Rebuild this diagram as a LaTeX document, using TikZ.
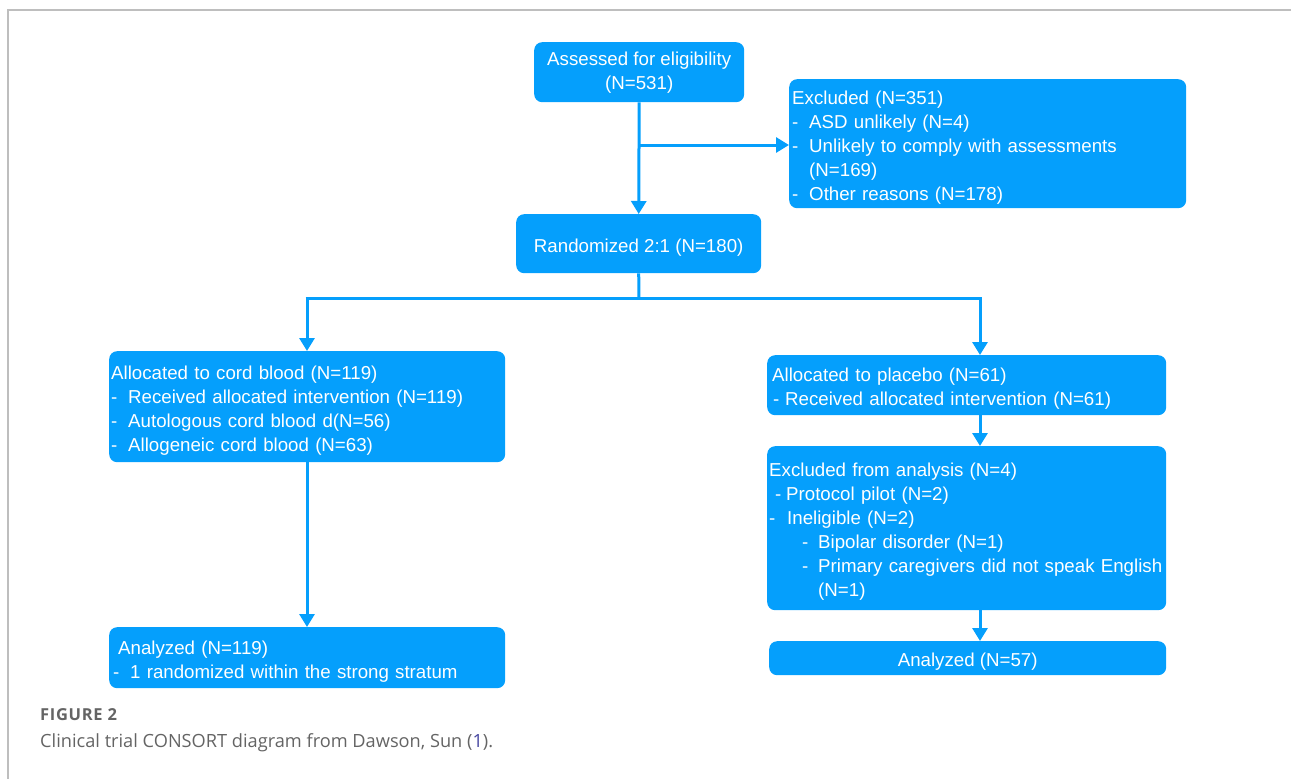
\documentclass[tikz,border=0pt]{standalone}
\usepackage{fontspec}
\setmainfont{Liberation Sans}
\newfontfamily\capfont{Open Sans}
\newfontfamily\figfont[LetterSpace=4]{Open Sans}
\usetikzlibrary{arrows.meta}
\definecolor{cblue}{RGB}{5,159,252}
\definecolor{framegray}{RGB}{190,190,190}
\definecolor{capgray}{RGB}{100,100,100}
\definecolor{refcol}{RGB}{70,70,160}
\newcommand{\dsh}[1]{\makebox[#1pt][l]{-}}
\newcommand{\tstrut}{\rule{0pt}{20.5pt}}
\tikzset{
  box/.style={fill=cblue, draw=none, rounded corners=8pt, text=white, anchor=north west,
    font=\fontsize{18.7}{24}\selectfont, inner ysep=2pt, execute at begin node=\tstrut},
  conn/.style={draw=cblue, line width=3pt},
  arr/.style={conn, -{Triangle[width=15pt,length=13pt]}},
}
\begin{document}
\begin{tikzpicture}[x=1pt,y=-1pt]
\useasboundingbox (0,0) rectangle (1291,779);
% frame
\draw[framegray, line width=2pt] (8,779) -- (8,10) -- (1291,10);

% boxes
\node[box, minimum width=210pt, minimum height=60pt, align=center] (A) at (534,42)
  {Assessed for eligibility\\(N=531)};
\node[box, minimum width=397pt, minimum height=129pt, inner xsep=3pt, text width=391pt, align=left] (X) at (789,79)
  {Excluded (N=351)\\
   \dsh{17}ASD unlikely (N=4)\\
   \dsh{17}Unlikely to comply with assessments\\
   \hspace*{17pt}(N=169)\\
   \dsh{17}Other reasons (N=178)};
\node[box, minimum width=245pt, minimum height=59pt, align=center] (R) at (516,214)
  {Randomized 2:1 (N=180)};
\node[box, minimum width=396pt, minimum height=111pt, inner xsep=2pt, text width=392pt, align=left] (C) at (109,351)
  {Allocated to cord blood (N=119)\\
   \dsh{17}Received allocated intervention (N=119)\\
   \dsh{17}Autologous cord blood d(N=56)\\
   \dsh{17}Allogeneic cord blood (N=63)};
\node[box, minimum width=399pt, minimum height=60pt, inner xsep=5pt, text width=389pt, align=left] (P) at (767,355)
  {Allocated to placebo (N=61)\\
   \hspace*{1pt}\dsh{12}Received allocated intervention (N=61)};
\node[box, minimum width=399pt, minimum height=164pt, inner xsep=2pt, text width=395pt, align=left] (E) at (767,446)
  {Excluded from analysis (N=4)\\
   \hspace*{6pt}\dsh{11}Protocol pilot (N=2)\\
   \dsh{18}Ineligible (N=2)\\
   \hspace*{33pt}\dsh{16}Bipolar disorder (N=1)\\
   \hspace*{33pt}\dsh{16}Primary caregivers did not speak English\\
   \hspace*{49pt}(N=1)};
\node[box, minimum width=397pt, minimum height=34pt, inner ysep=0pt, align=center] (N57) at (769,641)
  {Analyzed (N=57)};
\node[box, minimum width=396pt, minimum height=61pt, inner xsep=2pt, text width=392pt, align=left] (N119) at (109,627)
  {\hspace*{7pt}Analyzed (N=119)\\
   \hspace*{2pt}\dsh{17}1 randomized within the strong stratum};

% connectors
\coordinate (br) at (639,145);
\coordinate (sp) at (639,298);
\coordinate (spL) at (307,298);
\coordinate (spR) at (980,298);
\draw[arr] (A.south) -- (R.north);
\draw[arr] (br) -- (br -| X.west);
\draw[conn] (R.south) -- (sp);
\draw[conn] ([xshift=-1.5pt]spL) -- ([xshift=1.5pt]spR);
\draw[arr] (spL) -- (spL |- C.north);
\draw[arr] (spR) -- (spR |- P.north);
\draw[arr] (spR |- P.south) -- (spR |- E.north);
\draw[arr] (spR |- E.south) -- (spR |- N57.north);
\draw[arr] (spL |- C.south) -- (spL |- N119.north);

% caption
\node[anchor=west, inner sep=0pt, text=capgray, font=\figfont\bfseries\fontsize{16.5}{18}\selectfont] (fig) at (40,715) {FIGURE 2};
\node[anchor=west, inner sep=0pt, text=capgray, font=\capfont\fontsize{18.2}{21}\selectfont] (cap) at (40,743)
  {Clinical trial CONSORT diagram from Dawson, Sun (\textcolor{refcol}{1}).};
\end{tikzpicture}
\end{document}
